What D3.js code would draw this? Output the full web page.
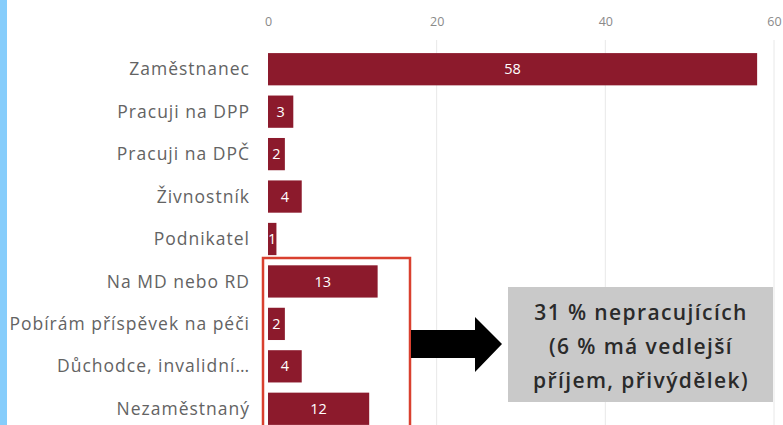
<!DOCTYPE html>
<html><head><meta charset="utf-8">
<script src="https://cdn.jsdelivr.net/npm/d3@7"></script>
<style>body{margin:0;background:#fff;overflow:hidden}svg{display:block}</style>
</head><body>
<svg id="c" width="783" height="425"></svg>
<script>
const categories = ["Zaměstnanec","Pracuji na DPP","Pracuji na DPČ","Živnostník","Podnikatel","Na MD nebo RD","Pobírám příspěvek na péči","Důchodce, invalidní…","Nezaměstnaný"];
const values = [58,3,2,4,1,13,2,4,12];
const ticks = [0,20,40,60];
const noteLines = ["31 % nepracujících","(6 % má vedlejší","příjem, přivýdělek)"];

const svg = d3.select("#c");
const font = "'Open Sans', Lato, sans-serif";
svg.append("rect").attr("x",0).attr("y",0).attr("width",7).attr("height",425).attr("fill","#86cdfb");

const x = d3.scaleLinear().domain([0,60]).range([268,774]);
const y = d3.scaleBand().domain(categories).range([48,430]).paddingInner(0.24).paddingOuter(0.12);

// gridlines
svg.append("g").selectAll("line").data(ticks.slice(1)).join("line")
  .attr("x1",d=>x(d)).attr("x2",d=>x(d)).attr("y1",40).attr("y2",425)
  .attr("stroke","#e8e8e8").attr("stroke-width",1);

// top axis
const ax = svg.append("g").attr("transform","translate(0,30)")
  .call(d3.axisTop(x).tickValues(ticks).tickSize(0).tickPadding(4));
ax.select(".domain").remove();
ax.selectAll("text").attr("fill","#8a8a8a").style("font-family",font).style("font-size","12.5px");

// category labels
svg.append("g").selectAll("text").data(categories).join("text")
  .attr("x",250).attr("y",d=>y(d)+y.bandwidth()/2).attr("dy","0.35em")
  .attr("text-anchor","end").attr("fill","#636363")
  .style("font-family",font).style("font-size","17.5px").style("letter-spacing","1px").text(d=>d);

// bars
svg.append("g").selectAll("rect").data(values).join("rect")
  .attr("x",x(0)).attr("y",(d,i)=>y(categories[i])).attr("height",y.bandwidth())
  .attr("width",d=>x(d)-x(0)).attr("fill","#8c1a2c");

svg.append("g").selectAll("text").data(values).join("text")
  .attr("x",d=>(x(0)+x(d))/2).attr("y",(d,i)=>y(categories[i])+y.bandwidth()/2).attr("dy","0.35em")
  .attr("text-anchor","middle").attr("fill","#fff")
  .style("font-family",font).style("font-size","14.5px").text(d=>d);

// red box
svg.append("rect").attr("x",263).attr("y",258).attr("width",147).attr("height",180)
  .attr("fill","none").attr("stroke","#d9402f").attr("stroke-width",2.5);

// arrow
svg.append("path").attr("d","M411,330 L475,330 L475,317 L502,344 L475,372 L475,358 L411,358 Z").attr("fill","#000");

// note box
svg.append("rect").attr("x",508).attr("y",287).attr("width",265).attr("height",115).attr("fill","#c9c9c9");
svg.append("g").selectAll("text").data(noteLines).join("text")
  .attr("x",641).attr("y",(d,i)=>313+i*34).attr("dy","0.35em").attr("text-anchor","middle")
  .attr("fill","#2a2a2a").style("font-family",font).style("font-weight","600").style("font-size","21px").style("letter-spacing","1.4px").text(d=>d);
</script>
</body></html>
